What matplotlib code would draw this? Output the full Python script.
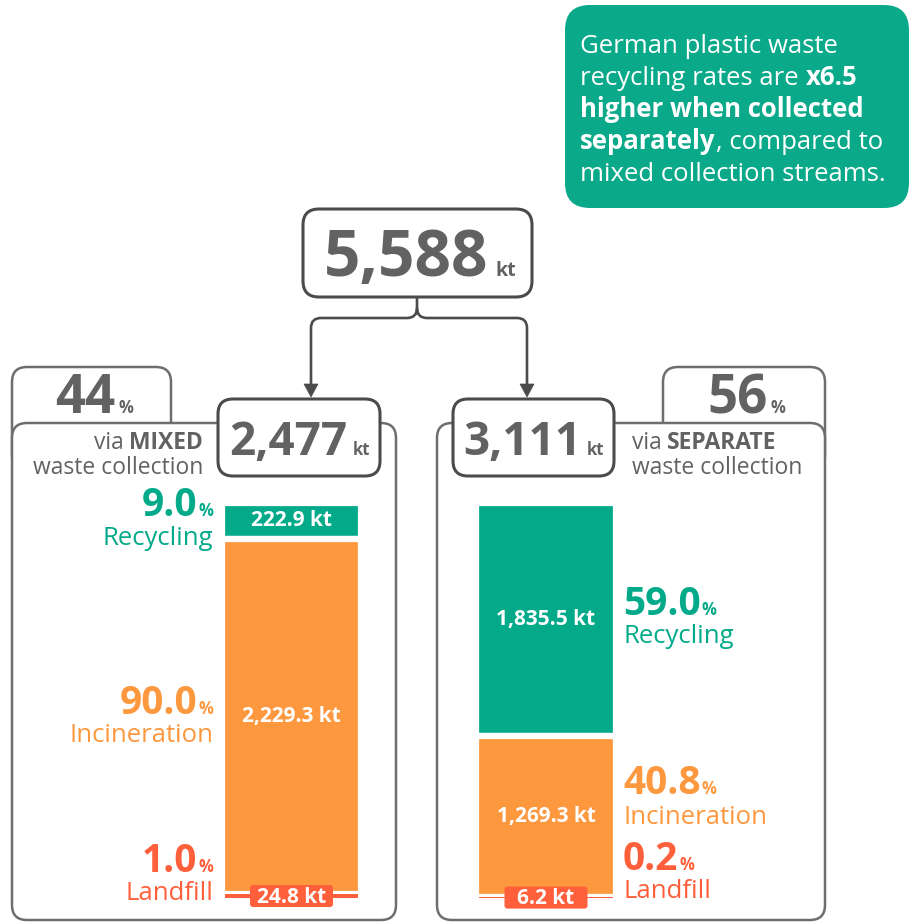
import matplotlib
matplotlib.use('Agg')
import matplotlib.pyplot as plt
from matplotlib.patches import FancyBboxPatch, Polygon, PathPatch
from matplotlib.path import Path

plt.rcParams['font.family'] = ['Open Sans', 'DejaVu Sans']

# values in kilotonnes
total_kt = 5588
stream_names = ['MIXED', 'SEPARATE']
stream_kt = [2477, 3111]
categories = ['Recycling', 'Incineration', 'Landfill']
mixed_kt = [222.9, 2229.3, 24.8]
separate_kt = [1835.5, 1269.3, 6.2]
callout = 'x6.5'

GREEN = '#02aa8a'
ORANGE = '#fd983f'
RED = '#ff5f3b'
GRAY = '#626262'
EDGE = '#6e6e6e'
DARK = '#4b4b4b'
cat_colors = [GREEN, ORANGE, RED]

W, H = 910, 922
fig = plt.figure(figsize=(W / 100, H / 100), dpi=100)
bg = fig.add_axes([0, 0, 1, 1])
bg.set_xlim(0, W)
bg.set_ylim(H, 0)
bg.axis('off')
R = fig.canvas.get_renderer()


def rbox(x0, y0, x1, y1, r, fc='white', ec=EDGE, lw=1.8, z=1, ax=bg):
    p = FancyBboxPatch((x0, y0), x1 - x0, y1 - y0,
                       boxstyle=f'round,pad=0,rounding_size={r}',
                       fc=fc, ec=ec, lw=lw, zorder=z)
    ax.add_patch(p)


def width(t):
    return t.get_window_extent(R).width


def tail(ax, t, s, dx, **kw):
    # put s right after text t, on the same baseline
    bb = t.get_window_extent(R)
    x = ax.transData.inverted().transform((bb.x1, bb.y0))[0]
    return ax.text(x + dx, t.get_position()[1], s, va='baseline', **kw)


def head(ax, t, s, dx, **kw):
    # put s right before text t, on the same baseline
    bb = t.get_window_extent(R)
    x = ax.transData.inverted().transform((bb.x0, bb.y0))[0]
    return ax.text(x - dx, t.get_position()[1], s, va='baseline', ha='right', **kw)


def pair(ax, cx, y, big, bsize, small, ssize, gap, z=5):
    # big number + small unit, centred as a group on cx
    t1 = ax.text(0, y, big, fontsize=bsize, fontweight='bold', color=GRAY, va='baseline', zorder=z)
    t2 = ax.text(0, y, small, fontsize=ssize, fontweight='bold', color=GRAY, va='baseline', zorder=z)
    w1, w2 = width(t1), width(t2)
    x = cx - (w1 + gap + w2) / 2
    t1.set_x(x)
    t2.set_x(x + w1 + gap)


# callout box
rbox(565, 5, 909, 208, 25, fc='#0aa98a', ec='none', z=1)
lines = [[('German plastic waste', 'normal')],
         [('recycling rates are ', 'normal'), (callout, 'bold')],
         [('higher when collected', 'bold')],
         [('separately', 'bold'), (', compared to', 'normal')],
         [('mixed collection streams.', 'normal')]]
for i, parts in enumerate(lines):
    y = 53 + 32 * i
    t = bg.text(580, y, parts[0][0], fontsize=18.5, color='white',
                fontweight=parts[0][1], va='baseline', zorder=3)
    for s, w in parts[1:]:
        t = tail(bg, t, s, 0, fontsize=18.5, color='white', fontweight=w, zorder=3)

# panels: back tabs, main panels
rbox(12, 367, 171, 470, 15, z=1)
rbox(12, 423, 396, 920, 15, z=2)
rbox(663, 367, 825, 470, 15, z=1)
rbox(437, 423, 825, 920, 15, z=2)

# value boxes
rbox(303, 209, 532, 297, 16, ec=DARK, lw=2.2, z=4)
rbox(218, 399, 380, 476, 15, ec=DARK, lw=2.2, z=4)
rbox(453, 399, 614, 476, 15, ec=DARK, lw=2.2, z=4)

pair(bg, 420, 276, f'{total_kt:,}', 46, 'kt', 14, 8)

# connector
verts = [(417, 297), (417, 308), (417, 318), (407, 318), (321, 318), (311, 318), (311, 328), (311, 386),
         (417, 308), (417, 318), (427, 318), (517, 318), (527, 318), (527, 328), (527, 386)]
codes = [Path.MOVETO, Path.LINETO, Path.CURVE3, Path.CURVE3, Path.LINETO, Path.CURVE3, Path.CURVE3, Path.LINETO,
         Path.MOVETO, Path.CURVE3, Path.CURVE3, Path.LINETO, Path.CURVE3, Path.CURVE3, Path.LINETO]
bg.add_patch(PathPatch(Path(verts, codes), fc='none', ec=DARK, lw=1.9, zorder=3))
for ax_x in (311, 527):
    bg.add_patch(Polygon([(ax_x - 7, 384), (ax_x + 7, 384), (ax_x, 397)], closed=True,
                         fc=DARK, ec=DARK, lw=0.5, zorder=3))

# stream boxes / tabs text
box_cx = [300, 534]
tab_cx = [94, 746]
for j, v in enumerate(stream_kt):
    pair(bg, box_cx[j], 455, f'{v:,}', 33, 'kt', 12, 5)
    share = round(v / total_kt * 100)
    pair(bg, tab_cx[j], 413, f'{share}', 38, '%', 12, 3, z=3)

t = bg.text(203, 449, stream_names[0], fontsize=16.5, fontweight='bold', color=GRAY, ha='right', va='baseline', zorder=3)
head(bg, t, 'via', 5, fontsize=16.5, color=GRAY, zorder=3)
bg.text(203, 474, 'waste collection', fontsize=16.5, color=GRAY, ha='right', va='baseline', zorder=3)
t = bg.text(632, 449, 'via', fontsize=16.5, color=GRAY, va='baseline', zorder=3)
tail(bg, t, stream_names[1], 5, fontsize=16.5, fontweight='bold', color=GRAY, zorder=3)
bg.text(632, 474, 'waste collection', fontsize=16.5, color=GRAY, va='baseline', zorder=3)

# stacked bars
bar_px = [(222, 361), (476, 616)]
bar_top, bar_bot = 503, 898
bar_axes = []
for j, vals in enumerate([mixed_kt, separate_kt]):
    x0, x1 = bar_px[j]
    axb = fig.add_axes([x0 / W, 1 - bar_bot / H, (x1 - x0) / W, (bar_bot - bar_top) / H])
    axb.set_xlim(-0.5, 0.5)
    axb.set_ylim(sum(vals), 0)
    axb.axis('off')
    axb.patch.set_alpha(0)
    bottom = 0
    for i, v in enumerate(vals):
        if i < 2:
            axb.bar(0, v, bottom=bottom, width=1, color=cat_colors[i], edgecolor='white', linewidth=4.5)
        else:
            axb.bar(0, v, bottom=bottom, width=0.96, color=cat_colors[i], linewidth=0, zorder=3)
        bottom += v
    bar_axes.append(axb)

# overlay for labels that sit on the bars
fg = fig.add_axes([0, 0, 1, 1])
fg.set_xlim(0, W)
fg.set_ylim(H, 0)
fg.axis('off')
fg.patch.set_alpha(0)

label_side = [('right', 213), ('left', 623)]
# baseline nudges (px) of percent / name relative to segment centre
nudges = [[(-5, 24), (-2, 26), (-24, 4)],
          [(-5, 23), (-23, 7), (-28, 0)]]
for j, vals in enumerate([mixed_kt, separate_kt]):
    axb = bar_axes[j]
    x0, x1 = bar_px[j]
    xc = (x0 + x1) / 2
    bottom = 0
    for i, v in enumerate(vals):
        yc = bottom + v / 2
        ypx = fg.transData.inverted().transform(axb.transData.transform((0, yc)))[1]
        if i < 2:
            fg.text(xc, ypx, f'{v:,.1f} kt', fontsize=15, fontweight='bold', color='white',
                    ha='center', va='center', zorder=6)
        else:
            rbox(xc - 41.5, ypx - 11, xc + 41.5, ypx + 11, 3, fc=RED, ec='none', z=6, ax=fg)
            fg.text(xc, ypx + 1, f'{v:,.1f} kt', fontsize=15, fontweight='bold', color='white',
                    ha='center', va='center', zorder=7)
        side, lx = label_side[j]
        dp, dn = nudges[j][i]
        pct = f'{v / sum(vals) * 100:.1f}'
        if side == 'right':
            t = fg.text(lx, ypx + dp, '%', fontsize=12, fontweight='bold', color=cat_colors[i],
                        ha='right', va='baseline', zorder=5)
            head(fg, t, pct, 1, fontsize=28, fontweight='bold', color=cat_colors[i], zorder=5)
            fg.text(lx, ypx + dn, categories[i], fontsize=18.5, color=cat_colors[i],
                    ha='right', va='baseline', zorder=5)
        else:
            t = fg.text(lx, ypx + dp, pct, fontsize=28, fontweight='bold', color=cat_colors[i],
                        va='baseline', zorder=5)
            tail(fg, t, '%', 1, fontsize=12, fontweight='bold', color=cat_colors[i], zorder=5)
            fg.text(lx, ypx + dn, categories[i], fontsize=18.5, color=cat_colors[i],
                    va='baseline', zorder=5)
        bottom += v

fig.savefig('out.png', dpi=100)
